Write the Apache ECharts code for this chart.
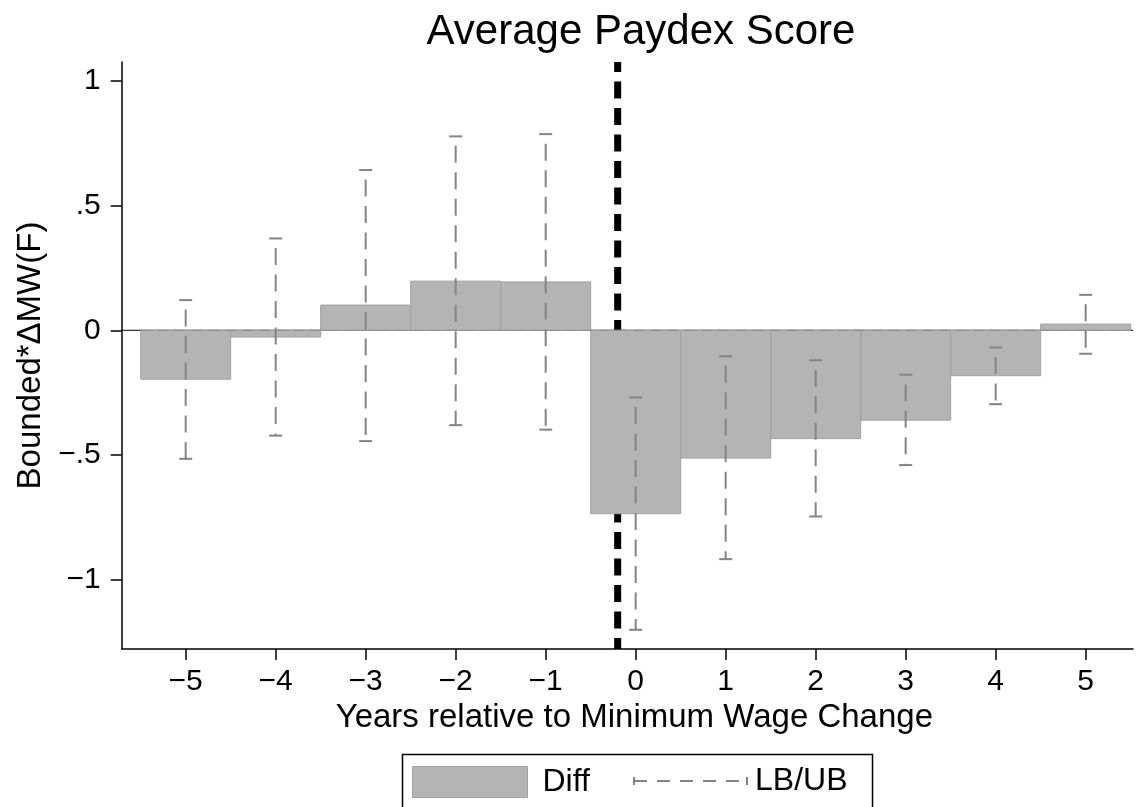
<!DOCTYPE html>
<html>
<head>
<meta charset="utf-8">
<title>Average Paydex Score</title>
<script src="https://cdn.jsdelivr.net/npm/echarts@6/dist/echarts.min.js"></script>
<style>
  html, body { margin: 0; padding: 0; background: #fff; }
  #chart { width: 1140px; height: 807px; }
</style>
</head>
<body>
<div id="chart"></div>
<script>
// Event-study estimates: years relative to a minimum wage change
const years = [-5, -4, -3, -2, -1, 0, 1, 2, 3, 4, 5];
const diff = [-0.196, -0.027, 0.101, 0.197, 0.194, -0.735, -0.512, -0.434, -0.360, -0.182, 0.025];
const lowerBound = [-0.515, -0.422, -0.444, -0.380, -0.398, -1.200, -0.917, -0.746, -0.540, -0.296, -0.094];
const upperBound = [0.121, 0.368, 0.642, 0.777, 0.786, -0.269, -0.104, -0.120, -0.178, -0.069, 0.142];

// Timing of the change (vertical reference line)
const eventLine = [-0.2];

// Axis ticks and their labels
const xTickValues = [-5, -4, -3, -2, -1, 0, 1, 2, 3, 4, 5];
const xTickLabels = ['\u22125', '\u22124', '\u22123', '\u22122', '\u22121', '0', '1', '2', '3', '4', '5'];
const yTickValues = [-1, -0.5, 0, 0.5, 1];
const yTickLabels = ['\u22121', '\u2212.5', '0', '.5', '1'];

const FONT = '"Liberation Sans", Arial, Helvetica, sans-serif';
const BAR_FILL = '#b4b4b4';
const BAR_EDGE = '#a2a2a2';
const CI_COLOR = '#848484';
const HALF = 0.5; // bars span one year each

const chart = echarts.init(document.getElementById('chart'), null, { renderer: 'canvas' });

const barData = years.map((y, i) => [y, diff[i]]);
const ciData = years.map((y, i) => [y, lowerBound[i], upperBound[i]]);

function labelFor(values, labels) {
  return function (v) {
    const k = values.findIndex(t => Math.abs(t - v) < 1e-9);
    return k >= 0 ? labels[k] : '';
  };
}

const option = {
  animation: false,
  backgroundColor: '#ffffff',
  title: {
    text: 'Average Paydex Score',
    left: 636,
    textAlign: 'center',
    top: 6,
    textStyle: { fontFamily: FONT, fontSize: 42, fontWeight: 'normal', color: '#000' }
  },
  grid: { left: 121.7, right: 7, top: 62, bottom: 158, containLabel: false },
  xAxis: {
    type: 'value',
    min: -5.711,
    max: 5.526,
    name: 'Years relative to Minimum Wage Change',
    nameLocation: 'middle',
    nameGap: 48,
    nameTextStyle: { fontFamily: FONT, fontSize: 33, color: '#000', padding: [0, 0, 0, 14] },
    axisLine: { show: true, onZero: false, lineStyle: { color: '#000', width: 1.5 } },
    axisTick: { show: true, length: 11, lineStyle: { color: '#000', width: 1.5 }, customValues: xTickValues },
    axisLabel: { show: true, margin: 18, fontFamily: FONT, fontSize: 30, color: '#000',
                 customValues: xTickValues, formatter: labelFor(xTickValues, xTickLabels) },
    splitLine: { show: false }
  },
  yAxis: {
    type: 'value',
    min: -1.277,
    max: 1.075,
    name: 'Bounded*\u0394MW(F)',
    nameLocation: 'middle',
    nameGap: 74,
    nameRotate: 90,
    nameTextStyle: { fontFamily: FONT, fontSize: 33, color: '#000' },
    axisLine: { show: true, onZero: false, lineStyle: { color: '#000', width: 1.5 } },
    axisTick: { show: true, length: 11, lineStyle: { color: '#000', width: 1.5 }, customValues: yTickValues },
    axisLabel: { show: true, margin: 21, fontFamily: FONT, fontSize: 30, color: '#000',
                 customValues: yTickValues, formatter: labelFor(yTickValues, yTickLabels) },
    splitLine: { show: false }
  },
  legend: [
    {
      data: [{ name: 'Diff', icon: 'rect', itemStyle: { color: BAR_FILL, borderColor: BAR_EDGE, borderWidth: 1 } }],
      left: 412, top: 766, padding: 0,
      itemWidth: 115, itemHeight: 31,
      selectedMode: false,
      textStyle: { fontFamily: FONT, fontSize: 32, color: '#000', padding: [0, 0, 0, 10] }
    },
    {
      data: [{
        name: 'LB/UB',
        icon: 'path://M0,0h2v8h-2z M0,3h14v2h-14z M24,3h13v2h-13z M47,3h13v2h-13z M70,3h13v2h-13z M93,3h13v2h-13z M113,0h2v8h-2z',
        itemStyle: { color: CI_COLOR, borderWidth: 0 }
      }],
      left: 633, top: 765, padding: 0,
      itemWidth: 115, itemHeight: 8,
      selectedMode: false,
      textStyle: { fontFamily: FONT, fontSize: 32, color: '#000', padding: [0, 0, 0, 2] }
    }
  ],
  graphic: [
    { type: 'rect', left: 400, top: 752, shape: { width: 470, height: 80 },
      style: { fill: 'none', stroke: '#000', lineWidth: 1.5 }, silent: true }
  ],
  series: [
    {
      // solid zero line across the plot region
      type: 'custom', name: 'zero', silent: true, z: 1,
      data: [[0]],
      renderItem: function (params, api) {
        const cs = params.coordSys;
        const y = api.coord([0, api.value(0)])[1];
        return { type: 'line', shape: { x1: cs.x, y1: y, x2: cs.x + cs.width, y2: y },
                 style: { stroke: '#000', lineWidth: 1 } };
      }
    },
    {
      // vertical dashed line marking the change
      type: 'custom', name: 'event', silent: true, z: 2,
      data: eventLine.map(v => [v]),
      renderItem: function (params, api) {
        const cs = params.coordSys;
        const x = api.coord([api.value(0), 0])[0];
        return { type: 'line', shape: { x1: x, y1: cs.y, x2: x, y2: cs.y + cs.height },
                 style: { stroke: '#000', lineWidth: 7, lineDash: [17, 9.5], lineDashOffset: 7 } };
      }
    },
    {
      type: 'custom', name: 'Diff', z: 3,
      itemStyle: { color: BAR_FILL },
      data: barData,
      renderItem: function (params, api) {
        const x = api.value(0), v = api.value(1);
        const a = api.coord([x - HALF, v]);
        const b = api.coord([x + HALF, 0]);
        return { type: 'rect',
                 shape: { x: a[0], y: Math.min(a[1], b[1]), width: b[0] - a[0], height: Math.abs(b[1] - a[1]) },
                 style: { fill: BAR_FILL, stroke: BAR_EDGE, lineWidth: 1 } };
      }
    },
    {
      // dashed overlay along zero across the bars
      type: 'custom', name: 'zeroDash', silent: true, z: 4,
      data: [[0]],
      renderItem: function (params, api) {
        const a = api.coord([years[0] - HALF, api.value(0)]);
        const b = api.coord([years[years.length - 1] + HALF, api.value(0)]);
        return { type: 'line', shape: { x1: a[0], y1: a[1], x2: b[0], y2: b[1] },
                 style: { stroke: '#8e8e8e', lineWidth: 1.2, lineDash: [10, 7] } };
      }
    },
    {
      type: 'custom', name: 'LB/UB', z: 5,
      itemStyle: { color: CI_COLOR },
      data: ciData,
      renderItem: function (params, api) {
        const x = api.value(0);
        const lo = api.coord([x, api.value(1)]);
        const hi = api.coord([x, api.value(2)]);
        const cap = 6.5;
        return {
          type: 'group',
          children: [
            { type: 'line', shape: { x1: hi[0], y1: hi[1], x2: lo[0], y2: lo[1] },
              style: { stroke: CI_COLOR, lineWidth: 2, lineDash: [17, 9.5], lineDashOffset: 17 } },
            { type: 'line', shape: { x1: hi[0] - cap, y1: hi[1], x2: hi[0] + cap, y2: hi[1] },
              style: { stroke: CI_COLOR, lineWidth: 2 } },
            { type: 'line', shape: { x1: lo[0] - cap, y1: lo[1], x2: lo[0] + cap, y2: lo[1] },
              style: { stroke: CI_COLOR, lineWidth: 2 } }
          ]
        };
      }
    }
  ]
};

chart.setOption(option);
</script>
</body>
</html>
